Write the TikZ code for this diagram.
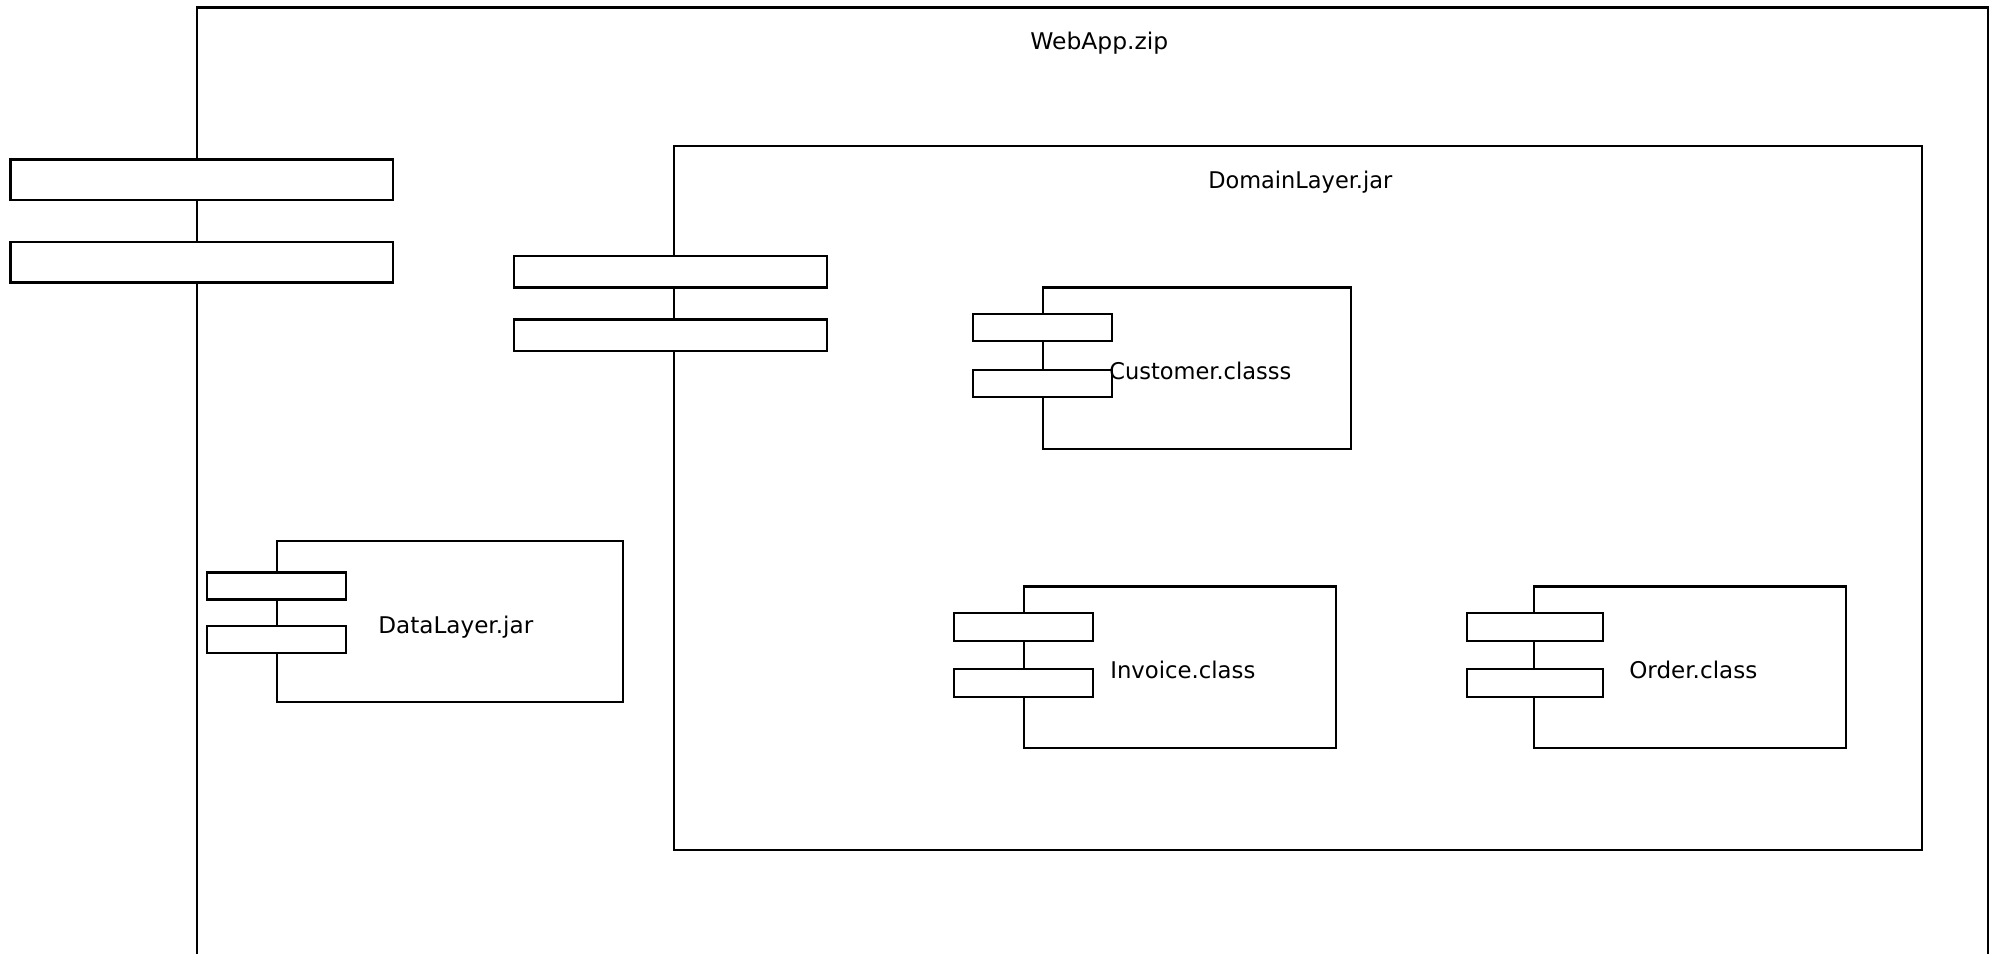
\documentclass[tikz,border=0pt]{standalone}
\usepackage{fontspec}
\setmainfont{DejaVu Sans}
\usepackage{graphicx}
\newcommand\fitw[2]{\resizebox{#1}{\height}{#2}}
\begin{document}
\begin{tikzpicture}[x=1pt,y=-1pt,line width=2.6pt,
  comp/.style={draw,rectangle,inner sep=0pt,outer sep=0pt,anchor=north west},
  tabbox/.style={draw,fill=white,rectangle,inner sep=0pt,outer sep=0pt,anchor=north west},
  lbl/.style={anchor=base west,inner sep=0pt,font=\fontsize{23}{23}\selectfont}]
\useasboundingbox (0,0) rectangle (1995,954);
% outer package (open at the bottom)
\coordinate (wbl) at (197,954);
\coordinate (wtl) at (197,7.5);
\coordinate (wtr) at (1988,7.5);
\coordinate (wbr) at (1988,954);
\draw (wbl) -- (wtl) -- (wtr) -- (wbr);
\node[tabbox,minimum width=382.5pt,minimum height=40.5pt] (wtab1) at (10.5,159.5) {};
\node[tabbox,minimum width=382.5pt,minimum height=40.5pt] (wtab2) at (10.5,242) {};
% DomainLayer
\node[comp,minimum width=1248pt,minimum height=704pt] (dom) at (674,146) {};
\node[tabbox,minimum width=313pt,minimum height=31.5pt] (dtab1) at (514,256) {};
\node[tabbox,minimum width=313pt,minimum height=31.5pt] (dtab2) at (514,319.5) {};
% Customer
\node[comp,minimum width=308pt,minimum height=161.5pt] (cust) at (1043,287.5) {};
\node[tabbox,minimum width=139pt,minimum height=27pt] (ctab1) at (973,314) {};
\node[tabbox,minimum width=139pt,minimum height=27pt] (ctab2) at (973,370) {};
% DataLayer
\node[comp,minimum width=346pt,minimum height=161pt] (data) at (277,541) {};
\node[tabbox,minimum width=139pt,minimum height=27pt] (datab1) at (207,572.5) {};
\node[tabbox,minimum width=139pt,minimum height=27pt] (datab2) at (207,626) {};
% Invoice
\node[comp,minimum width=312pt,minimum height=161.5pt] (inv) at (1024,586.5) {};
\node[tabbox,minimum width=139pt,minimum height=28pt] (itab1) at (954,613) {};
\node[tabbox,minimum width=139pt,minimum height=28pt] (itab2) at (954,669) {};
% Order
\node[comp,minimum width=312pt,minimum height=161.5pt] (ord) at (1534,586.5) {};
\node[tabbox,minimum width=136pt,minimum height=28pt] (otab1) at (1467,613) {};
\node[tabbox,minimum width=136pt,minimum height=28pt] (otab2) at (1467,669) {};
% labels
\node[lbl] (lweb) at (1029,49) {\fitw{138pt}{WebApp.zip}};
\node[lbl] (ldom) at (1207,188) {\fitw{184pt}{DomainLayer.jar}};
\node[lbl] (lcust) at (1108,379) {\fitw{182pt}{Customer.classs}};
\node[lbl] (ldata) at (377,633) {\fitw{155pt}{DataLayer.jar}};
\node[lbl] (linv) at (1109,678) {\fitw{145pt}{Invoice.class}};
\node[lbl] (lord) at (1628,678) {\fitw{128pt}{Order.class}};
\end{tikzpicture}
\end{document}
